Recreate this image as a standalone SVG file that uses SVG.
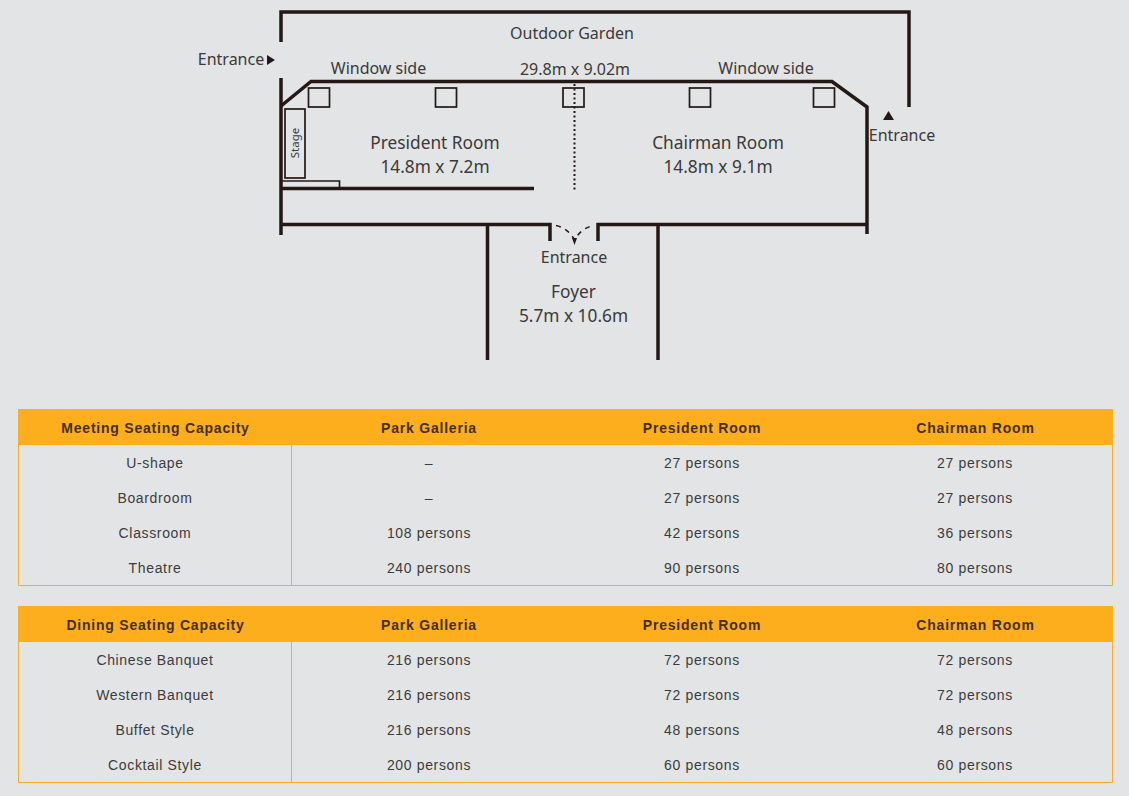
<svg xmlns="http://www.w3.org/2000/svg" width="1129" height="796" viewBox="0 0 1129 796">
<style>
.w{fill:none;stroke:#231815;stroke-width:3.500;stroke-linecap:butt;stroke-linejoin:miter}
.t{fill:none;stroke:#231815;stroke-width:1.700}
.p{font-family:"Noto Sans","Open Sans",sans-serif;fill:#3a3a3a;text-anchor:middle;font-size:16px}
.m{font-size:17.300px}
.h{font-family:"Liberation Sans",Arial,sans-serif;font-size:14px;font-weight:bold;fill:#44300f;text-anchor:middle;letter-spacing:.78px}
.c{font-family:"Liberation Sans",Arial,sans-serif;font-size:14px;fill:#3c3c3c;text-anchor:middle;letter-spacing:.65px}
.b{fill:#fdae1c}
.l{fill:none;stroke:#f5ae1e;stroke-width:1}
</style>
<rect width="1129" height="796" fill="#e2e4e5"/>
<g id="plan">
<path class="w" d="M281 42V12H909V107"/>
<path class="w" d="M281 78V235"/>
<path class="w" d="M281 106L311 81.500H832L867 107V234"/>
<path class="w" d="M281 188.500H534"/>
<path class="w" d="M281 224.500H550V241"/>
<path class="w" d="M867 224.500H598V241"/>
<path class="w" d="M487.500 225V360M658 225V360"/>
<path d="M282 181H339.500V188" class="t"/>
<rect class="t" x="285" y="109" width="20" height="69"/>
<rect class="t" x="308.500" y="88" width="21" height="19"/>
<rect class="t" x="435.500" y="88" width="21" height="19"/>
<rect class="t" x="563" y="88" width="21" height="19"/>
<rect class="t" x="689.500" y="88" width="21" height="19"/>
<rect class="t" x="813.500" y="88" width="21" height="19"/>
<path d="M574.500 84V190" fill="none" stroke="#231815" stroke-width="2" stroke-dasharray="2 2.500"/>
<path d="M556 225.500Q568 228 574.500 240Q581 228 594 225.500" fill="none" stroke="#231815" stroke-width="1.500" stroke-dasharray="5 5"/>
<path d="M572 238H577L574.500 245Z" fill="#231815"/>
<path d="M267 55V65L275 60Z" fill="#231815"/>
<path d="M883 120H894L888.500 111Z" fill="#231815"/>
<text class="p" x="572" y="39">Outdoor Garden</text>
<text class="p" x="231" y="65">Entrance</text>
<text class="p" x="378.500" y="74">Window side</text>
<text class="p" x="575" y="75">29.8m x 9.02m</text>
<text class="p" x="766" y="74">Window side</text>
<text class="p" x="902" y="141">Entrance</text>
<text class="p m" x="435" y="149">President Room</text>
<text class="p m" x="435" y="173">14.8m x 7.2m</text>
<text class="p m" x="718" y="149">Chairman Room</text>
<text class="p m" x="718" y="173">14.8m x 9.1m</text>
<text class="p" x="574" y="263">Entrance</text>
<text class="p m" x="573.500" y="298">Foyer</text>
<text class="p m" x="573.500" y="322">5.7m x 10.6m</text>
<text class="p" style="font-size:11.500px" transform="translate(299 143) rotate(-90)">Stage</text>
</g>
<g id="meeting-table">
<rect class="b" x="18" y="409" width="1095" height="36"/>
<path class="l" d="M18.500 445V585.500H1112.500V445M291.500 445V585.500"/>
<text class="h" x="155.500" y="433">Meeting Seating Capacity</text>
<text class="h" x="429" y="433">Park Galleria</text>
<text class="h" x="702" y="433">President Room</text>
<text class="h" x="975.500" y="433">Chairman Room</text>
<text class="c" x="155" y="468">U-shape</text><text class="c" x="429" y="468">–</text><text class="c" x="702" y="468">27 persons</text><text class="c" x="975" y="468">27 persons</text>
<text class="c" x="155" y="503">Boardroom</text><text class="c" x="429" y="503">–</text><text class="c" x="702" y="503">27 persons</text><text class="c" x="975" y="503">27 persons</text>
<text class="c" x="155" y="538">Classroom</text><text class="c" x="429" y="538">108 persons</text><text class="c" x="702" y="538">42 persons</text><text class="c" x="975" y="538">36 persons</text>
<text class="c" x="155" y="573">Theatre</text><text class="c" x="429" y="573">240 persons</text><text class="c" x="702" y="573">90 persons</text><text class="c" x="975" y="573">80 persons</text>
</g>
<g id="dining-table">
<rect class="b" x="18" y="606" width="1095" height="36"/>
<path class="l" d="M18.500 642V782.500H1112.500V642M291.500 642V782.500"/>
<text class="h" x="155.500" y="630">Dining Seating Capacity</text>
<text class="h" x="429" y="630">Park Galleria</text>
<text class="h" x="702" y="630">President Room</text>
<text class="h" x="975.500" y="630">Chairman Room</text>
<text class="c" x="155" y="665">Chinese Banquet</text><text class="c" x="429" y="665">216 persons</text><text class="c" x="702" y="665">72 persons</text><text class="c" x="975" y="665">72 persons</text>
<text class="c" x="155" y="700">Western Banquet</text><text class="c" x="429" y="700">216 persons</text><text class="c" x="702" y="700">72 persons</text><text class="c" x="975" y="700">72 persons</text>
<text class="c" x="155" y="735">Buffet Style</text><text class="c" x="429" y="735">216 persons</text><text class="c" x="702" y="735">48 persons</text><text class="c" x="975" y="735">48 persons</text>
<text class="c" x="155" y="770">Cocktail Style</text><text class="c" x="429" y="770">200 persons</text><text class="c" x="702" y="770">60 persons</text><text class="c" x="975" y="770">60 persons</text>
</g>
</svg>
